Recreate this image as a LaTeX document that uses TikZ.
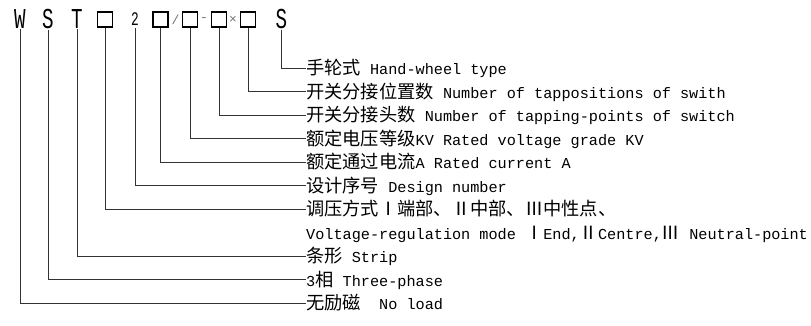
\documentclass[tikz,border=0pt]{standalone}
\usepackage{fontspec}
\setmainfont{Liberation Mono}
\newfontfamily\cjk[Scale=1.2]{Noto Sans CJK SC}
\usepackage{tikz}
\usetikzlibrary{calc}

\tikzset{
    code/.style={inner sep=0pt, minimum height=14pt, font=\fontsize{24}{24}\selectfont, xscale=0.8, yscale=1.2, transform shape},
    codebox/.style={draw, line width=1.2pt, minimum size=15pt, inner sep=0pt},
    codesep/.style={inner sep=0pt, minimum height=17pt, text=black!55, font=\fontsize{13}{13}\selectfont},
    label/.style={anchor=west, inner sep=0pt, text height=13.5pt, text depth=0pt, font=\fontsize{15.2}{18}\selectfont},
    lead/.style={black!80, line width=0.8pt}
}

\begin{document}
\begin{tikzpicture}[x=1pt, y=-1pt]
            % Frame to ensure alignment:
            \useasboundingbox                                                  (0,0) rectangle (811,326);
            % Type code
            \node[code]                      (w)     at ( 20.0, 19.5) {W};
            \node[code]                      (s)     at ( 48.0, 19.5) {S};
            \node[code]                      (t)     at ( 77.0, 19.5) {T};
            \node[codebox, line width=1.8pt] (mode)  at (105.0, 19.5) {};
            \node[code, font=\fontsize{16}{16}\selectfont] (two) at (135.0, 19.5) {2};
            \node[codebox]                   (cur)   at (160.5, 19.5) {};
            \node[codesep]                   (sla)   at (175.5, 19.5) {/};
            \node[codebox]                   (volt)  at (190.0, 19.5) {};
            \node[codesep]                   (dsh)   at (204.0, 19.5) {-};
            \node[codebox]                   (pts)   at (219.0, 19.5) {};
            \node[codesep]                   (tms)   at (233.0, 19.5) {×};
            \node[codebox]                   (pos)   at (248.0, 19.5) {};
            \node[code]                      (hw)    at (281.5, 19.5) {S};
            % Meaning of each position
            \node[label] (lhw)    at (306,  68.0) {{\cjk 手轮式} Hand-wheel type};
            \node[label] (lpos)   at (306,  91.5) {{\cjk 开关分接位置数} Number of tappositions of swith};
            \node[label] (lpts)   at (306, 115.0) {{\cjk 开关分接头数} Number of tapping-points of switch};
            \node[label] (lvolt)  at (306, 138.5) {{\cjk 额定电压等级}KV Rated voltage grade KV};
            \node[label] (lcur)   at (306, 162.0) {{\cjk 额定通过电流}A Rated current A};
            \node[label] (ltwo)   at (306, 185.5) {{\cjk 设计序号} Design number};
            \node[label] (lmode)  at (306, 209.0) {{\cjk 调压方式Ⅰ端部、Ⅱ中部、Ⅲ中性点、}};
            \node[label] (lmodeb) at (306, 232.5) {Voltage-regulation mode {\cjk Ⅰ}End,{\cjk Ⅱ}Centre,{\cjk Ⅲ} Neutral-point};
            \node[label] (lt)     at (306, 256.0) {{\cjk 条形} Strip};
            \node[label] (ls)     at (306, 279.5) {3{\cjk 相} Three-phase};
            \node[label] (lw)     at (306, 303.0) {{\cjk 无励磁}\ \ No load};
            % Leaders
            \draw[lead] (hw.south)   |- (lhw.west);
            \draw[lead] (pos.south)  |- (lpos.west);
            \draw[lead] (pts.south)  |- (lpts.west);
            \draw[lead] (volt.south) |- (lvolt.west);
            \draw[lead] (cur.south)  |- (lcur.west);
            \draw[lead] (two.south)  |- (ltwo.west);
            \draw[lead] (mode.south) |- (lmode.west);
            \draw[lead] (t.south)    |- (lt.west);
            \draw[lead] (s.south)    |- (ls.west);
            \draw[lead] (w.south)    |- (lw.west);
        \end{tikzpicture}
\end{document}
